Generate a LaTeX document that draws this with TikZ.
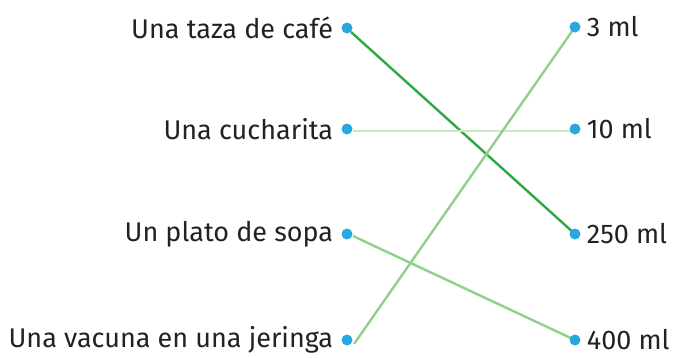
\documentclass[tikz,border=0pt]{standalone}
\usepackage{fontspec}
\setmainfont{Fira Sans}
\usetikzlibrary{positioning, backgrounds}
\definecolor{dotblue}{HTML}{29A8E0}
\definecolor{txtgray}{HTML}{222222}
\definecolor{darkgreen}{HTML}{2EA843}
\definecolor{midgreen}{HTML}{8FD18A}
\definecolor{palegreen}{HTML}{C8E9C2}
\tikzstyle{dot} = [circle,
inner sep=0pt,
minimum size=11pt,
fill=dotblue]
\tikzstyle{leftlabel} = [anchor=east,
inner sep=0pt,
text=txtgray,
font=\fontsize{27}{30}\selectfont]
\tikzstyle{rightlabel} = [anchor=west,
inner sep=0pt,
text=txtgray,
font=\fontsize{27}{30}\selectfont]
\tikzstyle{link} = [line width=2.4pt]

\begin{document}
\begin{tikzpicture}[x=1pt,y=-1pt]
\useasboundingbox (0,0) rectangle (673,357);
\node (l1) [dot] at (347,28) {};
\node (l2) [dot] at (347,129) {};
\node (l3) [dot] at (347,234) {};
\node (l4) [dot] at (347,340) {};
\node (r1) [dot] at (575,27) {};
\node (r2) [dot] at (575,129) {};
\node (r3) [dot] at (575,234) {};
\node (r4) [dot] at (575,340) {};
\node (t1) [leftlabel, left=8pt of l1] {Una taza de café};
\node (t2) [leftlabel, left=8pt of l2] {Una cucharita};
\node (t3) [leftlabel, left=8pt of l3] {Un plato de sopa};
\node (t4) [leftlabel, left=8pt of l4] {Una vacuna en una jeringa};
\node (u1) [rightlabel, right=6pt of r1] {3 ml};
\node (u2) [rightlabel, right=6pt of r2] {10 ml};
\node (u3) [rightlabel, right=6pt of r3] {250 ml};
\node (u4) [rightlabel, right=6pt of r4] {400 ml};
\begin{pgfonlayer}{background}
\draw [link, darkgreen] ([shift={(4,4)}]l1.center) -- (r3.center);
\draw [link, palegreen] ([shift={(6,2)}]l2.center) -- ([shift={(0,2)}]r2.center);
\draw [link, midgreen] ([shift={(6,2)}]l3.center) -- (r4.center);
\draw [link, midgreen] ([shift={(7,4)}]l4.center) -- (r1.center);
\end{pgfonlayer}
\end{tikzpicture}
\end{document}
